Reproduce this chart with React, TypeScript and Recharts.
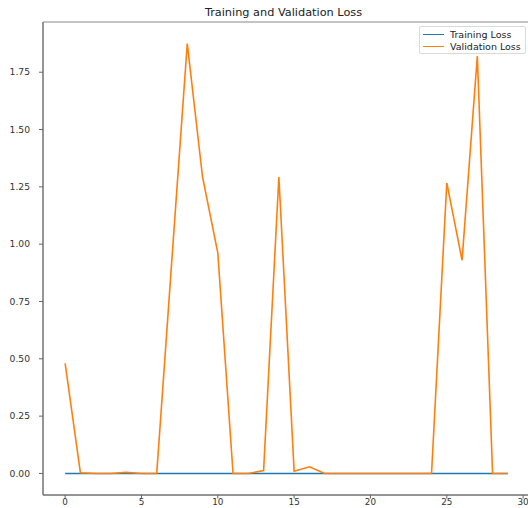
import { LineChart, Line, XAxis, YAxis, ReferenceArea } from 'recharts';

const epochs = [0, 1, 2, 3, 4, 5, 6, 7, 8, 9, 10, 11, 12, 13, 14, 15, 16, 17, 18, 19, 20, 21, 22, 23, 24, 25, 26, 27, 28, 29];
const trainingLoss = [0, 0, 0, 0, 0, 0, 0, 0, 0, 0, 0, 0, 0, 0, 0, 0, 0, 0, 0, 0, 0, 0, 0, 0, 0, 0, 0, 0, 0, 0];
const validationLoss = [
  0.48, 0.003, 0, 0, 0.005, 0, 0, 0.94, 1.875, 1.293, 0.962, 0, 0, 0.013, 1.293,
  0.01, 0.029, 0, 0, 0, 0, 0, 0, 0, 0, 1.267, 0.93, 1.82, 0, 0,
];
const xTicks = [0, 5, 10, 15, 20, 25, 30];
const yTicks = [0, 0.25, 0.5, 0.75, 1, 1.25, 1.5, 1.75];

const data = epochs.map((e, i) => ({
  epoch: e,
  train: trainingLoss[i],
  val: validationLoss[i],
}));

const FONT = '"DejaVu Sans", sans-serif';
const X_DOMAIN: [number, number] = [-1.45, 30.45];
const Y_DOMAIN: [number, number] = [-0.094, 1.969];

function LegendBox() {
  const row = (color: string, label: string) => (
    <div style={{ display: 'flex', alignItems: 'center', height: 12 }}>
      <div style={{ width: 21, height: 0, borderTop: `1.5px solid ${color}`, marginRight: 6 }} />
      <span>{label}</span>
    </div>
  );
  return (
    <div
      style={{
        position: 'absolute',
        left: 419,
        top: 26,
        width: 107,
        height: 28,
        padding: '1px 0 0 3px',
        boxSizing: 'border-box',
        border: '1px solid #d9d9d9',
        borderRadius: 2,
        background: 'rgba(255,255,255,0.8)',
        fontFamily: FONT,
        fontSize: 9.5,
        color: '#222',
        whiteSpace: 'nowrap',
      }}
    >
      {row('#1f77b4', 'Training Loss')}
      {row('#ff7f0e', 'Validation Loss')}
    </div>
  );
}

export default function App() {
  return (
    <div style={{ position: 'absolute', left: 0, top: 0, width: 528, height: 508, overflow: 'hidden', background: '#fff' }}>
      <div
        style={{
          position: 'absolute',
          left: 0,
          top: 6,
          width: 567,
          textAlign: 'center',
          fontFamily: FONT,
          fontSize: 11.3,
          color: '#222',
        }}
      >
        Training and Validation Loss
      </div>
      <LineChart width={531} height={508} data={data} margin={{ top: 22, right: 1, bottom: 0, left: 0 }}>
        <XAxis
          dataKey="epoch"
          type="number"
          domain={X_DOMAIN}
          ticks={xTicks}
          height={13}
          tickSize={3.5}
          tickMargin={0}
          stroke="#666"
          tick={{ fill: '#333', fontSize: 8.8, fontFamily: FONT }}
          allowDataOverflow
        />
        <YAxis
          type="number"
          domain={Y_DOMAIN}
          ticks={yTicks}
          width={43}
          tickSize={4}
          tickMargin={9}
          stroke="#666"
          tickFormatter={(v: number) => v.toFixed(2)}
          tick={{ fill: '#333', fontSize: 9.2, fontFamily: FONT }}
          allowDataOverflow
        />
        <ReferenceArea
          x1={X_DOMAIN[0]}
          x2={X_DOMAIN[1]}
          y1={Y_DOMAIN[0]}
          y2={Y_DOMAIN[1]}
          fill="none"
          stroke="#888"
          strokeWidth={1}
        />
        <Line
          dataKey="train"
          type="linear"
          stroke="#1f77b4"
          strokeWidth={1.6}
          dot={false}
          isAnimationActive={false}
        />
        <Line
          dataKey="val"
          type="linear"
          stroke="#ff7f0e"
          strokeWidth={1.6}
          dot={false}
          isAnimationActive={false}
        />
      </LineChart>
      <LegendBox />
    </div>
  );
}
